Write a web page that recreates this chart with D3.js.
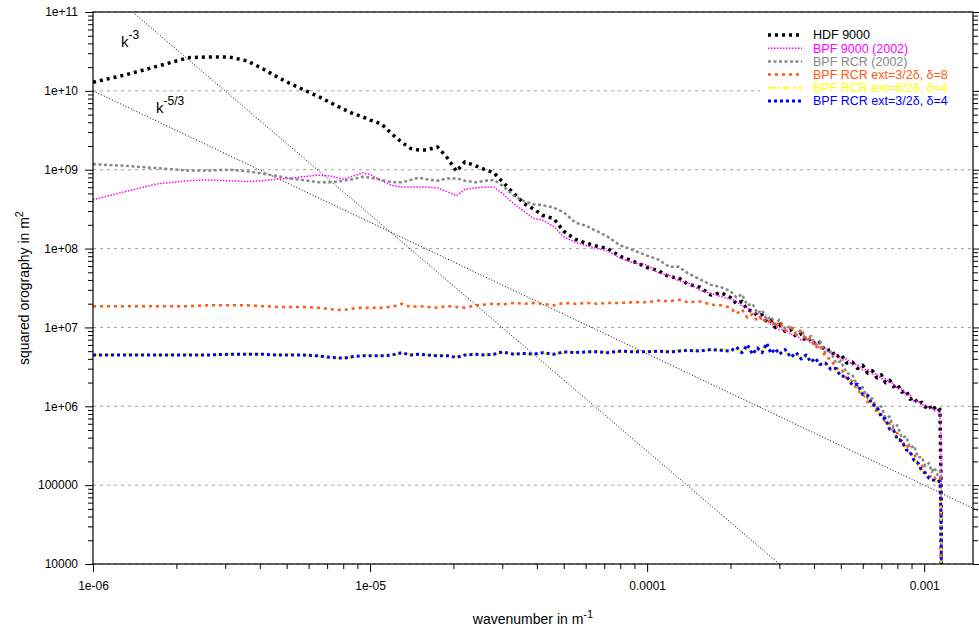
<!DOCTYPE html>
<html>
<head>
<meta charset="utf-8">
<script src="https://cdn.jsdelivr.net/npm/d3@7"></script>
<style>
body { margin: 0; background: #fff; }
svg { display: block; font-family: "Liberation Sans", Arial, Helvetica, sans-serif; }
</style>
</head>
<body>
<script>
// wavenumber grid (m^-1) the curves were read at
const wavenumber = [1e-6, 1.3e-6, 1.7e-6, 2.2e-6, 2.6e-6, 3.1e-6, 3.6e-6, 4.1e-6, 4.6e-6, 5.1e-6,
	5.7e-6, 6.5e-6, 7.2e-6, 8e-6, 8.7e-6, 9.4e-6, 1e-5, 1.1e-5, 1.2e-5, 1.3e-5,
	1.4e-5, 1.5e-5, 1.6e-5, 1.75e-5, 1.9e-5, 2.05e-5, 2.2e-5, 2.4e-5, 2.6e-5, 2.8e-5,
	3e-5, 3.3e-5, 3.6e-5, 3.9e-5, 4.2e-5, 4.6e-5, 5e-5, 5.5e-5, 6e-5, 6.6e-5,
	7.2e-5, 8e-5, 8.9e-5, 1e-4, 1.1e-4, 1.2e-4, 1.3e-4, 1.4e-4, 1.55e-4, 1.7e-4,
	1.85e-4,
	2e-4, 2.1e-4, 2.2e-4, 2.3e-4, 2.4e-4, 2.5e-4, 2.6e-4, 2.7e-4, 2.8e-4, 2.9e-4,
	3e-4, 3.15e-4, 3.3e-4, 3.45e-4, 3.6e-4, 3.75e-4, 3.9e-4, 4.05e-4, 4.2e-4, 4.4e-4,
	4.6e-4, 4.8e-4, 5e-4, 5.25e-4, 5.5e-4, 5.75e-4, 6e-4, 6.25e-4, 6.5e-4, 6.75e-4,
	7e-4, 7.25e-4, 7.5e-4, 7.75e-4, 8e-4, 8.3e-4, 8.6e-4, 8.9e-4, 9.2e-4, 9.5e-4,
	9.8e-4, 1.01e-3, 1.04e-3, 1.065e-3, 1.09e-3, 1.115e-3, 1.14e-3,
	1.15e-3, 1.16e-3];

// squared orography, given as log10(m^2)
const hdf9000 = [10.11, 10.20, 10.31, 10.42, 10.43, 10.43, 10.38, 10.28, 10.18, 10.10,
	10.02, 9.93, 9.85, 9.77, 9.71, 9.67, 9.63, 9.58, 9.45, 9.35,
	9.27, 9.25, 9.25, 9.29, 9.15, 8.98, 9.10, 9.05, 9.00, 8.96,
	8.85, 8.70, 8.57, 8.50, 8.42, 8.38, 8.22, 8.12, 8.07, 8.03,
	8.00, 7.90, 7.84, 7.76, 7.72, 7.64, 7.63, 7.55, 7.51, 7.41,
	7.44,
	7.38, 7.30, 7.33, 7.22, 7.21, 7.15, 7.16, 7.07, 7.09, 7.00,
	7.04, 6.95, 6.97, 6.88, 6.92, 6.82, 6.86, 6.78, 6.81, 6.70,
	6.72, 6.62, 6.66, 6.55, 6.56, 6.48, 6.52, 6.42, 6.45, 6.36,
	6.40, 6.30, 6.33, 6.25, 6.28, 6.18, 6.20, 6.09, 6.11, 6.03,
	6.05, 5.99, 6.02, 5.95, 5.98, 5.93, 5.96,
	5.00, 2];
const bpf9000 = [8.62, 8.72, 8.82, 8.86, 8.87, 8.86, 8.85, 8.86, 8.88, 8.89,
	8.91, 8.93, 8.92, 8.88, 8.92, 8.96, 8.94, 8.86, 8.80, 8.78,
	8.78, 8.78, 8.78, 8.77, 8.72, 8.67, 8.75, 8.77, 8.78, 8.78,
	8.70, 8.57, 8.47, 8.38, 8.36, 8.28, 8.15, 8.08, 8.04, 8.00,
	7.97, 7.88, 7.82, 7.79, 7.69, 7.66, 7.59, 7.57, 7.47, 7.43,
	7.39,
	7.36, 7.33, 7.27, 7.25, 7.17, 7.18, 7.09, 7.10, 7.03, 7.04,
	6.97, 6.98, 6.91, 6.92, 6.83, 6.86, 6.80, 6.81, 6.74, 6.74,
	6.67, 6.66, 6.58, 6.60, 6.53, 6.53, 6.46, 6.47, 6.41, 6.41,
	6.35, 6.35, 6.30, 6.29, 6.22, 6.22, 6.15, 6.14, 6.06, 6.07,
	6.01, 6.02, 5.97, 5.98, 5.94, 5.95, 5.92,
	5.52, 2];
const bpfRcr = [9.07, 9.05, 9.02, 8.99, 8.99, 9.00, 8.98, 8.95, 8.92, 8.89,
	8.87, 8.84, 8.84, 8.86, 8.88, 8.91, 8.90, 8.87, 8.84, 8.84,
	8.87, 8.90, 8.88, 8.86, 8.89, 8.89, 8.86, 8.84, 8.86, 8.87,
	8.80, 8.67, 8.60, 8.56, 8.55, 8.52, 8.46, 8.33, 8.29, 8.22,
	8.15, 8.04, 7.98, 7.91, 7.86, 7.77, 7.77, 7.69, 7.61, 7.54,
	7.51,
	7.46, 7.38, 7.42, 7.28, 7.30, 7.18, 7.22, 7.10, 7.14, 7.04,
	7.10, 6.98, 7.02, 6.92, 6.97, 6.86, 6.89, 6.78, 6.82, 6.68,
	6.69, 6.55, 6.57, 6.42, 6.40, 6.25, 6.24, 6.10, 6.10, 5.97,
	6.00, 5.85, 5.87, 5.73, 5.76, 5.60, 5.62, 5.47, 5.50, 5.35,
	5.36, 5.24, 5.28, 5.17, 5.22, 5.13, 5.18,
	4.71, 2];
const rcrExt3d8 = [7.27, 7.27, 7.27, 7.27, 7.28, 7.28, 7.28, 7.27, 7.26, 7.26,
	7.26, 7.25, 7.23, 7.22, 7.24, 7.25, 7.25, 7.25, 7.26, 7.30,
	7.26, 7.27, 7.26, 7.25, 7.27, 7.26, 7.25, 7.28, 7.29, 7.30,
	7.29, 7.31, 7.30, 7.31, 7.30, 7.28, 7.31, 7.30, 7.31, 7.30,
	7.31, 7.31, 7.32, 7.32, 7.34, 7.33, 7.35, 7.32, 7.33, 7.29,
	7.28,
	7.25, 7.17, 7.23, 7.12, 7.17, 7.08, 7.14, 7.05, 7.10, 7.01,
	7.07, 6.96, 7.00, 6.90, 6.95, 6.84, 6.86, 6.74, 6.78, 6.62,
	6.60, 6.48, 6.48, 6.35, 6.32, 6.19, 6.17, 6.05, 6.05, 5.92,
	5.90, 5.79, 5.79, 5.66, 5.66, 5.52, 5.54, 5.40, 5.40, 5.27,
	5.26, 5.16, 5.15, 5.08, 5.10, 5.04, 5.07,
	4.62, 2];
const rcrExt6d4 = [6.65, 6.66, 6.65, 6.66, 6.65, 6.66, 6.67, 6.66, 6.65, 6.66,
	6.65, 6.64, 6.62, 6.61, 6.62, 6.64, 6.65, 6.64, 6.65, 6.67,
	6.66, 6.66, 6.65, 6.65, 6.64, 6.63, 6.65, 6.67, 6.65, 6.66,
	6.68, 6.67, 6.66, 6.66, 6.67, 6.66, 6.68, 6.69, 6.68, 6.70,
	6.68, 6.69, 6.70, 6.70, 6.69, 6.70, 6.71, 6.70, 6.71, 6.71,
	6.72,
	6.71, 6.72, 6.70, 6.74, 6.68, 6.72, 6.70, 6.75, 6.68, 6.71,
	6.67, 6.69, 6.63, 6.66, 6.61, 6.63, 6.57, 6.59, 6.53, 6.54,
	6.48, 6.46, 6.39, 6.36, 6.28, 6.26, 6.16, 6.12, 6.03, 5.98,
	5.87, 5.82, 5.72, 5.68, 5.59, 5.54, 5.46, 5.40, 5.32, 5.26,
	5.19, 5.13, 5.10, 5.06, 5.07, 5.03, 5.05,
	4.62, 2];
const rcrExt3d4 = [6.65, 6.65, 6.65, 6.65, 6.65, 6.66, 6.66, 6.66, 6.65, 6.65,
	6.65, 6.64, 6.62, 6.61, 6.63, 6.64, 6.64, 6.64, 6.65, 6.68,
	6.65, 6.66, 6.65, 6.64, 6.64, 6.62, 6.65, 6.66, 6.65, 6.66,
	6.69, 6.66, 6.67, 6.66, 6.68, 6.66, 6.69, 6.68, 6.69, 6.69,
	6.68, 6.70, 6.69, 6.69, 6.70, 6.69, 6.70, 6.71, 6.70, 6.72,
	6.71,
	6.70, 6.75, 6.68, 6.78, 6.66, 6.74, 6.68, 6.80, 6.67, 6.73,
	6.66, 6.72, 6.62, 6.68, 6.60, 6.65, 6.56, 6.61, 6.53, 6.55,
	6.47, 6.48, 6.38, 6.38, 6.27, 6.28, 6.15, 6.14, 6.02, 6.00,
	5.86, 5.84, 5.71, 5.70, 5.58, 5.56, 5.45, 5.42, 5.31, 5.28,
	5.18, 5.15, 5.09, 5.07, 5.06, 5.04, 5.05,
	4.60, 2];

const seriesNames = ["HDF 9000", "BPF 9000 (2002)", "BPF RCR (2002)",
	"BPF RCR ext=3/2\u03b4, \u03b4=8", "BPF RCR ext=6/2\u03b4, \u03b4=4", "BPF RCR ext=3/2\u03b4, \u03b4=4"];
const seriesValues = [hdf9000, bpf9000, bpfRcr, rcrExt3d8, rcrExt6d4, rcrExt3d4];

// power law guide lines, end points [k, P]
const slope3 = [[1.39e-6, 1e11], [3.0e-4, 1e4]];
const slope53 = [[1e-6, 1e10], [1.58e-3, 4.66e4]];

const xTicks = [1e-6, 1e-5, 1e-4, 1e-3];
const xTickLabels = ["1e-06", "1e-05", "0.0001", "0.001"];
const yTicks = [1e4, 1e5, 1e6, 1e7, 1e8, 1e9, 1e10, 1e11];
const yTickLabels = ["10000", "100000", "1e+06", "1e+07", "1e+08", "1e+09", "1e+10", "1e+11"];

const styles = [
	{color: "#000000", width: 3.5, dash: "3,4"},
	{color: "#ff00ff", width: 1.5, dash: "1.5,1.5"},
	{color: "#888888", width: 2.5, dash: "3,2.5"},
	{color: "#ff5a14", width: 2.5, dash: "3,4"},
	{color: "#ffff00", width: 2, dash: "7,3,2,3"},
	{color: "#0000ff", width: 3, dash: "3,3"}
];

const W = 979, H = 629;
const margin = {top: 12, right: 6, bottom: 65, left: 93};

const svg = d3.select("body").append("svg")
	.attr("width", W)
	.attr("height", H);

const x = d3.scaleLog()
	.domain([1e-6, 0.0015])
	.range([margin.left, W - margin.right]);
const y = d3.scaleLog()
	.domain([1e4, 1e11])
	.range([H - margin.bottom, margin.top]);

const x0 = margin.left, x1 = W - margin.right, y0 = H - margin.bottom, y1 = margin.top;

// minor ticks 2..9 in each decade
function minors(majors, lo, hi) {
	const out = [];
	majors.forEach(d => d3.range(2, 10).forEach(m => {
		const v = m * d;
		if (v > lo && v < hi) out.push(v);
	}));
	return out;
}

svg.append("defs").append("clipPath").attr("id", "plot")
	.append("rect").attr("x", x0).attr("y", y1).attr("width", x1 - x0).attr("height", y0 - y1);
svg.select("defs").append("clipPath").attr("id", "guides")
	.append("rect").attr("x", x0).attr("y", y1).attr("width", W - x0).attr("height", y0 - y1);

//grid
svg.append("g")
	.selectAll("line")
	.data(yTicks)
	.join("line")
		.attr("x1", x0).attr("x2", x1)
		.attr("y1", d => y(d)).attr("y2", d => y(d))
		.attr("stroke", "#a0a0a0")
		.attr("stroke-dasharray", "3,4");

//axes
svg.append("g")
	.attr("transform", `translate(0,${y0})`)
	.call(d3.axisBottom(x).tickValues(xTicks).tickFormat((d, i) => xTickLabels[i]).tickSize(8).tickPadding(9));
svg.append("g")
	.attr("transform", `translate(0,${y0})`)
	.call(d3.axisBottom(x).tickValues(minors([1e-6, 1e-5, 1e-4, 1e-3], 1e-6, 0.0015)).tickFormat("").tickSize(5));

svg.append("g")
	.attr("transform", `translate(${x0},0)`)
	.call(d3.axisLeft(y).tickValues(yTicks).tickFormat((d, i) => yTickLabels[i]).tickSize(8).tickPadding(7));
svg.append("g")
	.attr("transform", `translate(${x0},0)`)
	.call(d3.axisLeft(y).tickValues(minors(yTicks, 1e4, 1e11)).tickFormat("").tickSize(5));
svg.append("g")
	.attr("transform", `translate(${x1},0)`)
	.call(d3.axisRight(y).tickValues(yTicks).tickFormat("").tickSize(8));
svg.append("g")
	.attr("transform", `translate(${x1},0)`)
	.call(d3.axisRight(y).tickValues(minors(yTicks, 1e4, 1e11)).tickFormat("").tickSize(5));

svg.selectAll(".domain").remove();
svg.selectAll(".tick line").attr("stroke", "#000");
svg.selectAll(".tick text")
	.attr("font-family", "Liberation Sans, Arial, sans-serif")
	.attr("font-size", 12)
	.attr("fill", "#000");

// axis titles
const xTitle = svg.append("text")
	.attr("x", (x0 + x1) / 2)
	.attr("y", 624)
	.attr("text-anchor", "middle")
	.attr("font-size", 14)
	.text("wavenumber in m");
xTitle.append("tspan").attr("dy", -6).attr("font-size", 11).text("-1");

const yTitle = svg.append("text")
	.attr("transform", `translate(29,${(y0 + y1) / 2}) rotate(-90)`)
	.attr("text-anchor", "middle")
	.attr("font-size", 14)
	.text("squared orography in m");
yTitle.append("tspan").attr("dy", -6).attr("font-size", 11).text("2");

//guide lines k^-3 and k^-5/3
const line = d3.line()
	.x(d => x(d[0]))
	.y(d => y(d[1]));

const guides = svg.append("g").attr("clip-path", "url(#guides)");
[slope3, slope53].forEach(s => guides.append("path")
	.attr("d", line(s))
	.attr("fill", "none")
	.attr("stroke", "#000")
	.attr("stroke-width", 1)
	.attr("stroke-dasharray", "1,2"));

const k3 = svg.append("text").attr("x", 121).attr("y", 47).attr("font-size", 15).text("k");
k3.append("tspan").attr("dy", -8).attr("font-size", 12).text("-3");
const k53 = svg.append("text").attr("x", 156).attr("y", 113).attr("font-size", 15).text("k");
k53.append("tspan").attr("dy", -8).attr("font-size", 12).text("-5/3");

//series
const curves = svg.append("g").attr("clip-path", "url(#plot)");
seriesValues.forEach((vals, i) => {
	const pts = d3.zip(wavenumber, vals.map(v => Math.pow(10, v)));
	curves.append("path")
		.datum(pts)
		.attr("fill", "none")
		.attr("stroke", styles[i].color)
		.attr("stroke-width", styles[i].width)
		.attr("stroke-dasharray", styles[i].dash)
		.attr("stroke-linejoin", "round")
		.attr("d", line);
});

//frame
svg.append("rect")
	.attr("x", x0).attr("y", y1)
	.attr("width", x1 - x0).attr("height", y0 - y1)
	.attr("fill", "none")
	.attr("stroke", "#000")
	.attr("stroke-width", 1.2);

//legend
const legend = svg.append("g");
legend.append("rect")
	.attr("x", 760).attr("y", 24)
	.attr("width", x1 - 761).attr("height", 84)
	.attr("fill", "#fff");
seriesNames.forEach((name, i) => {
	const ly = 35 + i * 13.2;
	legend.append("line")
		.attr("x1", 768).attr("x2", 802)
		.attr("y1", ly).attr("y2", ly)
		.attr("stroke", styles[i].color)
		.attr("stroke-width", styles[i].width)
		.attr("stroke-dasharray", styles[i].dash);
	legend.append("text")
		.attr("x", 813).attr("y", ly)
		.attr("dy", "0.35em")
		.attr("font-size", 12.5)
		.attr("fill", i === 0 ? "#000" : styles[i].color)
		.text(name);
});
</script>
</body>
</html>
